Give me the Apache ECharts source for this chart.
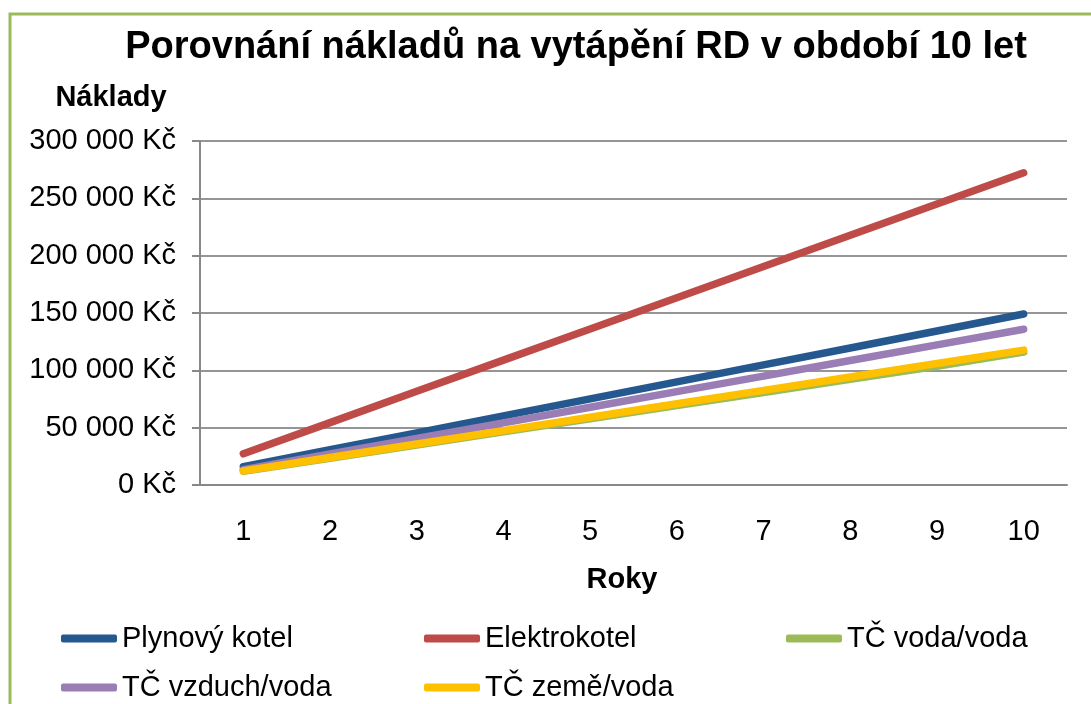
<!DOCTYPE html>
<html>
<head>
<meta charset="utf-8">
<script src="https://cdn.jsdelivr.net/npm/echarts@6/dist/echarts.min.js"></script>
<style>
html,body{margin:0;padding:0;background:#fff;}
#chart{width:1091px;height:704px;}
</style>
</head>
<body>
<div id="chart"></div>
<script>
const titleText = 'Porovnání nákladů na vytápění RD v období 10 let';
const yAxisTitle = 'Náklady';
const xAxisTitle = 'Roky';
const years = ['1','2','3','4','5','6','7','8','9','10'];
const seriesNames = ['Plynový kotel','Elektrokotel','TČ voda/voda','TČ vzduch/voda','TČ země/voda'];
const plynovyKotel = [15900, 30700, 45500, 60300, 75100, 89900, 104700, 119500, 134300, 149100];
const elektrokotel = [27200, 54400, 81700, 108900, 136100, 163300, 190600, 217800, 245000, 272300];
const tcVodaVoda = [12000, 23400, 34900, 46300, 57800, 69200, 80700, 92100, 103600, 116000];
const tcVzduchVoda = [13400, 27000, 40600, 54200, 67800, 81400, 95000, 108600, 122200, 135800];
const tcZemeVoda = [12300, 24000, 35700, 47400, 59100, 70800, 82500, 94200, 105900, 117600];
const yMin = 0, yMax = 300000, yStep = 50000;
const currency = ' Kč';

const seriesData = [plynovyKotel, elektrokotel, tcVodaVoda, tcVzduchVoda, tcZemeVoda];
const colors = ['#25588F', '#BE4B48', '#9BBB59', '#9A7DB4', '#FFC000'];
const FONT = "'Liberation Sans', Arial, sans-serif";

function fmt(v) {
  return String(v).replace(/\B(?=(\d{3})+(?!\d))/g, ' ') + currency;
}

const legendPos = [
  {left: 61, top: 624},
  {left: 424, top: 624},
  {left: 786, top: 624},
  {left: 61, top: 673},
  {left: 424, top: 673}
];

const chart = echarts.init(document.getElementById('chart'), null, {renderer: 'canvas'});
chart.setOption({
  animation: false,
  backgroundColor: '#fff',
  color: colors,
  graphic: [{
    type: 'rect',
    shape: {x: 10, y: 14, width: 1300, height: 900},
    style: {fill: 'none', stroke: '#9BBB59', lineWidth: 3},
    silent: true, z: -1
  }],
  title: [
    {text: titleText, left: 571, top: 24, textAlign: 'center',
     textStyle: {fontFamily: FONT, fontSize: 38, fontWeight: 'bold', color: '#000'}},
    {text: yAxisTitle, left: 106, top: 78, textAlign: 'center',
     textStyle: {fontFamily: FONT, fontSize: 29, fontWeight: 'bold', color: '#000'}},
    {text: xAxisTitle, left: 617, top: 560, textAlign: 'center',
     textStyle: {fontFamily: FONT, fontSize: 29, fontWeight: 'bold', color: '#000'}}
  ],
  legend: seriesNames.map((n, i) => ({
    data: [n],
    left: legendPos[i].left,
    top: legendPos[i].top,
    icon: 'roundRect',
    itemWidth: 56,
    itemHeight: 8,
    padding: 0,
    textStyle: {fontFamily: FONT, fontSize: 29, color: '#000'}
  })),
  grid: {left: 200, right: 24, top: 141, bottom: 219, containLabel: false},
  xAxis: {
    type: 'category',
    data: years,
    boundaryGap: true,
    axisLine: {show: true, lineStyle: {color: '#888', width: 2}},
    axisTick: {show: false},
    axisLabel: {fontFamily: FONT, fontSize: 29, color: '#000', margin: 32},
    splitLine: {show: false}
  },
  yAxis: {
    type: 'value',
    min: yMin, max: yMax, interval: yStep,
    axisLine: {show: true, lineStyle: {color: '#888', width: 2}},
    axisTick: {show: true, length: 8, lineStyle: {color: '#888', width: 2}},
    axisLabel: {fontFamily: FONT, fontSize: 29, color: '#000', margin: 24, formatter: fmt,
                padding: [4, 0, 0, 0]},
    splitLine: {show: true, lineStyle: {color: '#959595', width: 2}}
  },
  series: seriesNames.map((n, i) => ({
    name: n,
    type: 'line',
    data: seriesData[i],
    showSymbol: false,
    symbol: 'none',
    lineStyle: {width: 7.5, color: colors[i], cap: 'round', join: 'round'},
    itemStyle: {color: colors[i]},
    z: 2 + i
  }))
});
</script>
</body>
</html>
